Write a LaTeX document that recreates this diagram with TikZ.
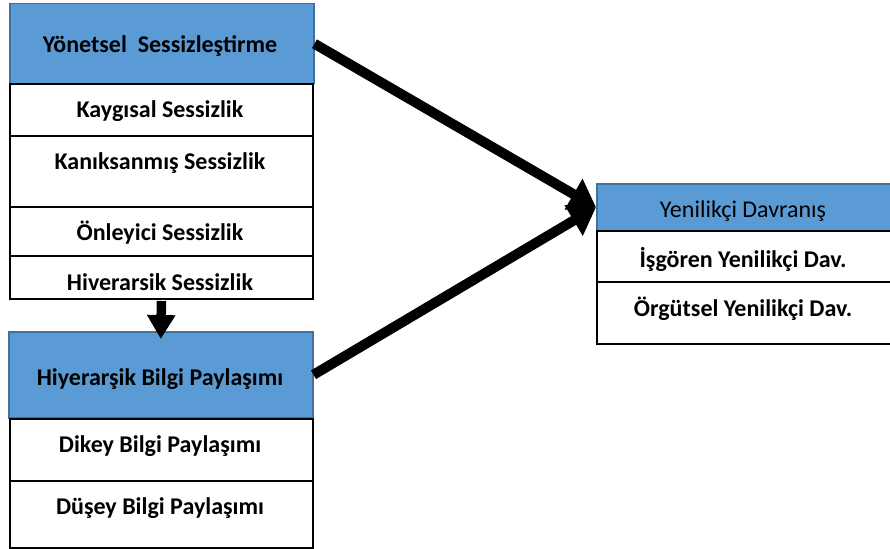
\documentclass[tikz,border=0pt]{standalone}
\usepackage{fontspec}
\setmainfont{Carlito}
\usetikzlibrary{arrows.meta}
\definecolor{hdrblue}{HTML}{5B9BD5}
\definecolor{hdredge}{HTML}{41719C}
\tikzset{
  hdr/.style={draw=hdredge, line width=1.5pt, fill=hdrblue, anchor=north west, inner sep=0pt},
  cell/.style={draw=black, line width=2pt, fill=white, anchor=north west, inner sep=0pt},
  txt/.style={font=\fontsize{24}{26}\selectfont\bfseries, text=black, inner sep=0pt},
  bigarrow/.style={line width=10pt, -{Triangle[length=26pt,width=34pt]}},
  downarrow/.style={line width=9.5pt, -{Triangle[length=24pt,width=27pt]}},
}
\begin{document}
\begin{tikzpicture}[x=1pt,y=-1pt]
\useasboundingbox (0,0) rectangle (890,548);
% left upper group
\node[hdr, minimum width=304pt, minimum height=80pt] (yon) at (9,3) {};
\node[cell, minimum width=303pt, minimum height=52pt] (kay) at (9,83) {};
\node[cell, minimum width=303pt, minimum height=71pt] (kan) at (9,135) {};
\node[cell, minimum width=303pt, minimum height=49pt] (onl) at (9,206) {};
\node[cell, minimum width=303pt, minimum height=43pt] (hiv) at (9,255) {};
\node[txt] (yont) at (160,46) {Yönetsel\ \ Sessizleştirme};
\node[txt] (kayt) at (160,111) {Kaygısal Sessizlik};
\node[txt] (kant) at (160,163) {Kanıksanmış Sessizlik};
\node[txt] (onlt) at (160,233) {Önleyici Sessizlik};
\node[txt] (hivt) at (160,282) {Hiverarsik Sessizlik};
% left lower group
\node[hdr, minimum width=304pt, minimum height=86pt] (hiy) at (8,331) {};
\node[cell, minimum width=303pt, minimum height=62pt] (dik) at (9,418) {};
\node[cell, minimum width=303pt, minimum height=67pt] (dus) at (9,480) {};
\node[txt] (hiyt) at (160,379) {Hiyerarşik Bilgi Paylaşımı};
\node[txt] (dikt) at (160,446) {Dikey Bilgi Paylaşımı};
\node[txt] (dust) at (160,508) {Düşey Bilgi Paylaşımı};
% right group
\node[hdr, minimum width=300pt, minimum height=47pt] (yen) at (596,183) {};
\node[cell, minimum width=300pt, minimum height=51pt] (isg) at (596,230) {};
\node[cell, minimum width=300pt, minimum height=62pt] (org) at (596,281) {};
\node[txt, font=\fontsize{24}{26}\selectfont] (yent) at (743,211) {Yenilikçi Davranış};
\node[txt] (isgt) at (743,259) {İşgören Yenilikçi Dav.};
\node[txt] (orgt) at (743,309) {Örgütsel Yenilikçi Dav.};
% arrows
\draw[bigarrow] (yon.east) -- (yen.west);
\draw[bigarrow] (hiy.east) -- (yen.west);
\draw[downarrow] ([yshift=-1pt]hiv.south) -- ([yshift=-8pt]hiy.north);
\end{tikzpicture}
\end{document}
